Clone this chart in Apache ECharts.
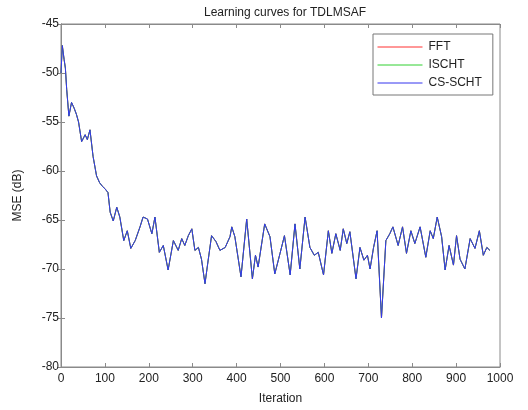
<!DOCTYPE html>
<html>
<head>
<meta charset="utf-8">
<script src="https://cdn.jsdelivr.net/npm/echarts@6/dist/echarts.min.js"></script>
<style>
  html, body { margin: 0; padding: 0; background: #fff; }
  #main { width: 528px; height: 410px; }
</style>
</head>
<body>
<div id="main"></div>
<script>
// iteration index of each sample
var iters = [0, 3, 7, 10, 13, 18, 24, 30, 35, 40, 47, 55, 60, 66, 73, 81, 88, 95, 100, 107,
  112, 115, 119, 127, 134, 143, 151, 159, 169, 180, 187, 197, 207, 214, 224, 233, 244, 256, 267, 275,
  282, 290, 298, 305, 313, 320, 328, 334, 343, 353, 362, 374, 385, 389, 396, 410, 423, 436, 443, 449,
  464, 476, 487, 499, 509, 522, 533, 544, 556, 567, 577, 586, 598, 609, 617, 626, 636, 643, 651, 658,
  672, 681, 690, 698, 704, 712, 720, 730, 740, 749, 756, 768, 778, 787, 797, 806, 818, 831, 841, 848,
  857, 867, 875, 884, 894, 901, 909, 920, 932, 943, 953, 962, 970, 977];

// MSE in dB for CS-SCHT (FFT and ISCHT lie underneath, same curve)
var csSchtMse = [-50, -47.2, -48.6, -49.5, -51.7, -54.4, -53, -53.6, -54.2, -55, -57, -56.3, -56.8, -55.8, -58.5, -60.5, -61.2, -61.6, -61.8, -62.2,
  -64.2, -64.4, -65.1, -63.7, -64.7, -67.1, -66.1, -67.9, -67.1, -65.7, -64.7, -64.9, -66.4, -64.7, -68.3, -67.6, -70.1, -67.1, -68.1, -66.9,
  -67.6, -66.6, -65.9, -68.1, -67.8, -69, -71.5, -69.5, -66.6, -67.2, -68.1, -67.8, -66.7, -65.7, -66.7, -70.8, -64.9, -71, -68.6, -69.8,
  -65.4, -66.7, -70.5, -68.4, -66.6, -70.6, -65.4, -70, -64.7, -67.8, -68.6, -68.3, -70.6, -66.1, -68.4, -66.4, -68.1, -65.9, -67.4, -66.2,
  -71, -67.8, -69.1, -68.6, -70, -67.8, -66.1, -75, -67.1, -66.4, -65.7, -67.6, -65.7, -68.4, -66.1, -67.4, -65.7, -68.8, -66.1, -66.9,
  -64.7, -66.7, -70.1, -67.6, -69.6, -66.6, -69, -70, -66.9, -67.9, -66.1, -68.6, -67.8, -68.1];
var fftMse = csSchtMse;
var ischtMse = csSchtMse;

var seriesNames = ['FFT', 'ISCHT', 'CS-SCHT'];
var seriesColors = ['#ff3030', '#30d030', '#3535ee'];

function pairs(ys) {
  return iters.map(function (x, i) { return [x, ys[i]]; });
}

var axisGray = '#8a8a8a';
var txt = '#222';

var option = {
  animation: false,
  backgroundColor: '#fff',
  title: {
    text: 'Learning curves for TDLMSAF',
    left: 280, top: 2, textAlign: 'center',
    textStyle: { fontSize: 12, fontWeight: 'normal', color: txt, fontFamily: 'Liberation Sans' }
  },
  legend: {
    orient: 'vertical',
    left: 373, top: 34,
    padding: [7, 11, 6, 4],
    itemGap: 6,
    itemWidth: 45, itemHeight: 12,
    borderColor: '#777', borderWidth: 1,
    backgroundColor: '#fff',
    itemStyle: { opacity: 0 },
    lineStyle: { width: 1 },
    textStyle: { fontSize: 12, color: txt, fontFamily: 'Liberation Sans', padding: [0, 0, 0, 1] },
    data: seriesNames
  },
  grid: { left: 61, right: 28, top: 24, bottom: 41, show: true, borderColor: axisGray, borderWidth: 1 },
  xAxis: [{
    type: 'value', min: 0, max: 1000, interval: 100,
    name: 'Iteration', nameLocation: 'middle', nameGap: 26,
    nameTextStyle: { fontSize: 12, color: txt, fontFamily: 'Liberation Sans' },
    axisLine: { show: true, lineStyle: { color: axisGray } },
    axisTick: { show: true, inside: true, length: 4, lineStyle: { color: axisGray } },
    axisLabel: { fontSize: 12, color: txt, margin: 6, fontFamily: 'Liberation Sans',
      formatter: function (v) { return String(v); } },
    splitLine: { show: false }
  }, {
    type: 'value', min: 0, max: 1000, interval: 100, position: 'top',
    axisLine: { show: true, lineStyle: { color: axisGray } },
    axisTick: { show: true, inside: true, length: 4, lineStyle: { color: axisGray } },
    axisLabel: { show: false },
    splitLine: { show: false }
  }],
  yAxis: [{
    type: 'value', min: -80, max: -45, interval: 5,
    name: 'MSE (dB)', nameLocation: 'middle', nameGap: 37,
    nameTextStyle: { fontSize: 12, color: txt, fontFamily: 'Liberation Sans' },
    axisLine: { show: true, lineStyle: { color: axisGray } },
    axisTick: { show: true, inside: true, length: 4, lineStyle: { color: axisGray } },
    axisLabel: { fontSize: 12, color: txt, margin: 2, fontFamily: 'Liberation Sans' },
    splitLine: { show: false }
  }, {
    type: 'value', min: -80, max: -45, interval: 5, position: 'right',
    axisLine: { show: true, lineStyle: { color: axisGray } },
    axisTick: { show: true, inside: true, length: 4, lineStyle: { color: axisGray } },
    axisLabel: { show: false },
    splitLine: { show: false }
  }],
  series: [fftMse, ischtMse, csSchtMse].map(function (ys, i) {
    return {
      name: seriesNames[i],
      type: 'line',
      data: pairs(ys),
      symbol: 'none',
      color: seriesColors[i],
      lineStyle: { width: 1, color: seriesColors[i] }
    };
  })
};

var chart = echarts.init(document.getElementById('main'));
chart.setOption(option);
</script>
</body>
</html>
